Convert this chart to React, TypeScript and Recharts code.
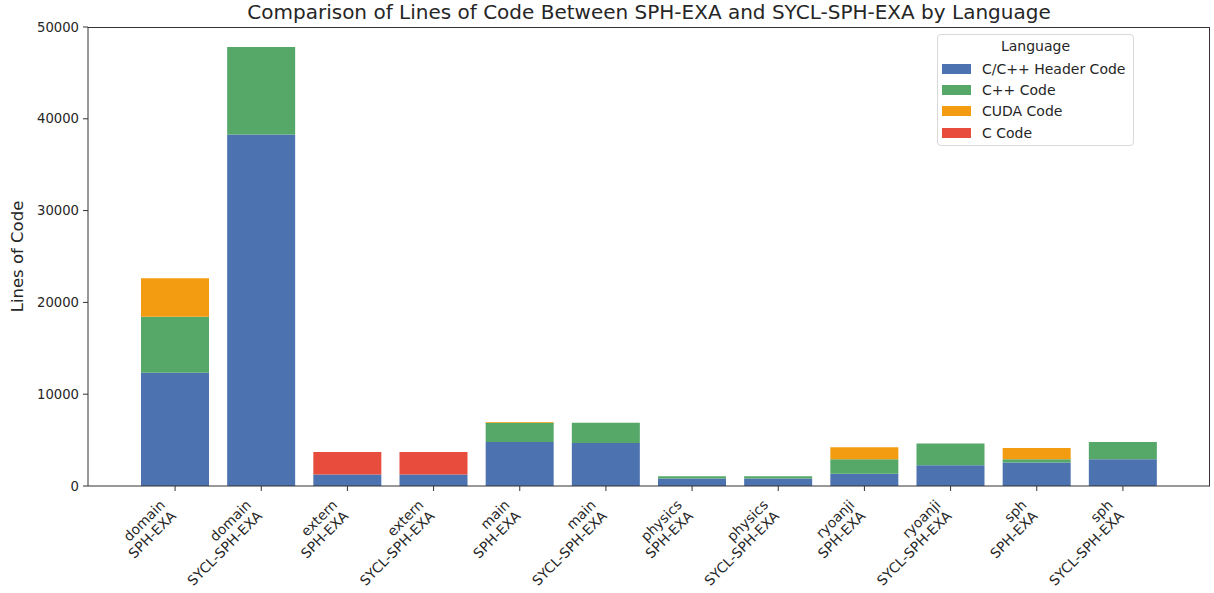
import { BarChart, Bar, XAxis, YAxis } from "recharts";

const modules = ["domain", "domain", "extern", "extern", "main", "main", "physics", "physics", "ryoanji", "ryoanji", "sph", "sph"];
const versions = ["SPH-EXA", "SYCL-SPH-EXA", "SPH-EXA", "SYCL-SPH-EXA", "SPH-EXA", "SYCL-SPH-EXA", "SPH-EXA", "SYCL-SPH-EXA", "SPH-EXA", "SYCL-SPH-EXA", "SPH-EXA", "SYCL-SPH-EXA"];

const headerCode = [12340, 38290, 1240, 1240, 4800, 4690, 810, 810, 1330, 2260, 2550, 2910];
const cppCode = [6110, 9520, 0, 0, 2080, 2190, 250, 250, 1580, 2370, 360, 1890];
const cudaCode = [4190, 0, 0, 0, 80, 0, 0, 0, 1310, 0, 1240, 0];
const cCode = [0, 0, 2470, 2470, 0, 0, 0, 0, 0, 0, 0, 0];

const yTicks = [0, 10000, 20000, 30000, 40000, 50000];

const series = [
  { key: "header", name: "C/C++ Header Code", color: "#4c72b0" },
  { key: "cpp", name: "C++ Code", color: "#55a868" },
  { key: "cuda", name: "CUDA Code", color: "#f39c12" },
  { key: "c", name: "C Code", color: "#e74c3c" },
];

const data = modules.map((m, i) => ({
  label: `${m}\n${versions[i]}`,
  header: headerCode[i],
  cpp: cppCode[i],
  cuda: cudaCode[i],
  c: cCode[i],
}));

const FONT = "DejaVu Sans, sans-serif";

function XTick({ x, y, payload }: any) {
  const lines = String(payload.value).split("\n");
  const lh = 15.5;
  return (
    <g transform={`translate(${x - 17},${y + 4}) rotate(-45)`}>
      {lines.map((t, i) => (
        <text
          key={i}
          x={0}
          y={11 + i * lh}
          textAnchor="end"
          fontSize={13.8}
          fontFamily={FONT}
          fill="#262626"
        >
          {t}
        </text>
      ))}
    </g>
  );
}

function YLabel({ viewBox }: any) {
  const cy = viewBox.y + viewBox.height / 2;
  return (
    <text
      x={0}
      y={0}
      transform={`translate(23,${cy}) rotate(-90)`}
      textAnchor="middle"
      fontSize={16.5}
      fontFamily={FONT}
      fill="#262626"
    >
      Lines of Code
    </text>
  );
}

function LegendBox() {
  return (
    <div
      style={{
        position: "absolute",
        left: 937,
        top: 34,
        width: 197,
        height: 112,
        border: "1px solid #d9d9d9",
        borderRadius: 4,
        background: "rgba(255,255,255,0.85)",
        fontFamily: FONT,
        fontSize: 14,
        color: "#262626",
        boxSizing: "border-box",
      }}
    >
      <div style={{ textAlign: "center", height: 23, lineHeight: "23px" }}>Language</div>
      {series.map((s) => (
        <div key={s.key} style={{ display: "flex", alignItems: "center", height: 21.3 }}>
          <span style={{ display: "inline-block", width: 29, height: 10, background: s.color, marginLeft: 4, marginRight: 11 }} />
          <span style={{ whiteSpace: "nowrap" }}>{s.name}</span>
        </div>
      ))}
    </div>
  );
}

export default function App() {
  return (
    <div style={{ position: "absolute", left: 0, top: 0, width: 1214, height: 593, background: "#fff" }}>
      <div
        style={{
          position: "absolute",
          left: 88,
          width: 1122,
          top: 0,
          textAlign: "center",
          fontFamily: FONT,
          fontSize: 20,
          color: "#262626",
          whiteSpace: "nowrap",
        }}
      >
        Comparison of Lines of Code Between SPH-EXA and SYCL-SPH-EXA by Language
      </div>
      <BarChart
        width={1214}
        height={593}
        data={data}
        margin={{ top: 27, right: 4, left: 0, bottom: 0 }}
        barSize={68}
      >
        <XAxis
          dataKey="label"
          interval={0}
          height={107}
          padding={{ left: 44, right: 44 }}
          tick={<XTick />}
          tickSize={5}
          tickMargin={3}
          stroke="#333"
          tickLine={{ stroke: "#333" }}
        />
        <YAxis
          domain={[0, 50000]}
          ticks={yTicks}
          width={88}
          tickSize={5}
          tickMargin={4}
          stroke="#333"
          tick={{ fill: "#262626", fontSize: 13.2, fontFamily: FONT }}
          label={<YLabel />}
        />
        {series.map((s) => (
          <Bar key={s.key} dataKey={s.key} name={s.name} stackId="a" fill={s.color} isAnimationActive={false} />
        ))}
      </BarChart>
      {/* top and right spines */}
      <div
        style={{
          position: "absolute",
          left: 88,
          top: 27,
          width: 1122,
          height: 459,
          borderTop: "1px solid #333",
          borderRight: "1px solid #333",
          boxSizing: "border-box",
          pointerEvents: "none",
        }}
      />
      <LegendBox />
    </div>
  );
}
